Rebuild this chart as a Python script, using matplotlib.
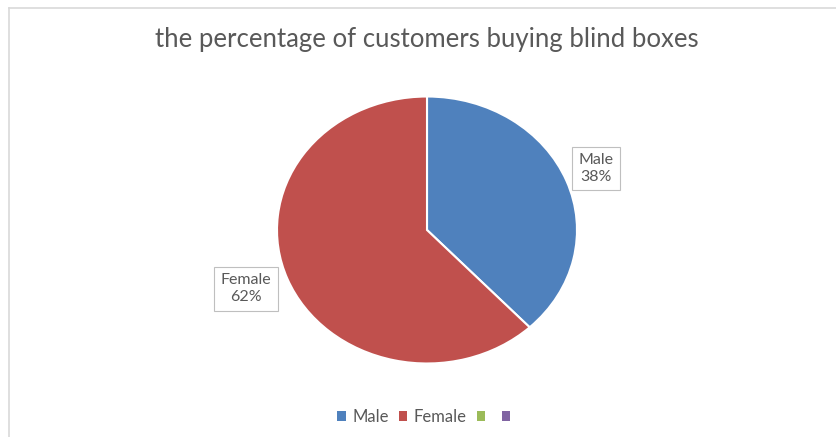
import matplotlib.pyplot as plt
from matplotlib.patches import Patch
from matplotlib.lines import Line2D

# survey shares
labels = ["Male", "Female"]
shares = [38, 62]
colors = ["#4F81BD", "#C0504D"]
# legend also lists two unused series from the sheet
legend_labels = ["Male", "Female", "", ""]
legend_colors = ["#4F81BD", "#C0504D", "#9BBB59", "#8064A2"]

text_color = "#595959"
plt.rcParams['font.family'] = ['Lato', 'DejaVu Sans']

fig = plt.figure(figsize=(8.36, 4.37), dpi=100)
W, H = 836, 437

# chart area border (left and top edges)
fig.add_artist(Line2D([9 / W, 9 / W], [0, 1 - 8 / H], color="#d9d9d9", lw=1.2, transform=fig.transFigure))
fig.add_artist(Line2D([9 / W, 1], [1 - 8 / H, 1 - 8 / H], color="#d9d9d9", lw=1.2, transform=fig.transFigure))

fig.text(427 / W, 1 - 40 / H, "the percentage of customers buying blind boxes",
         ha="center", va="center", fontsize=18.5, color=text_color)

# pie is slightly wider than tall
cx, cy, rx, ry = 427, 230, 150, 133.5
ax = fig.add_axes([(cx - rx) / W, 1 - (cy + ry) / H, 2 * rx / W, 2 * ry / H])
wedges, _ = ax.pie(shares, colors=colors, startangle=90, counterclock=False,
                   wedgeprops=dict(edgecolor="white", linewidth=1.5))
ax.set_aspect("auto")
ax.set_xlim(-1, 1)
ax.set_ylim(-1, 1)
ax.axis("off")

label_pos = [(1.127, 0.46), (-1.207, -0.44)]
for lab, val, (x, y) in zip(labels, shares, label_pos):
    ax.text(x, y, f"{lab}\n{val}%", ha="center", va="center", fontsize=11.5,
            color=text_color, linespacing=1.25, clip_on=False,
            bbox=dict(boxstyle="square,pad=0.4", fc="white", ec="#bfbfbf", lw=0.8))

handles = [Patch(facecolor=c, edgecolor="none") for c in legend_colors]
fig.legend(handles, legend_labels, loc="center", bbox_to_anchor=(427 / W, 1 - 417 / H),
           ncol=4, frameon=False, fontsize=12, handlelength=0.5, handleheight=0.5,
           handletextpad=0.4, columnspacing=0.6, labelcolor=text_color)

fig.savefig("out.png", dpi=100)
